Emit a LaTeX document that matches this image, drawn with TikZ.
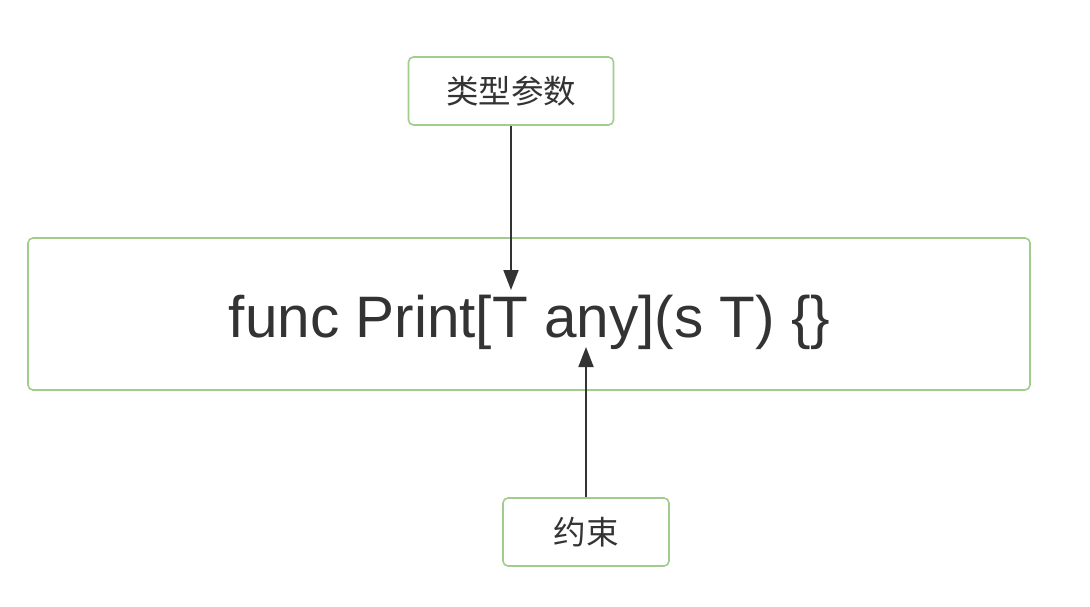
\documentclass[tikz,border=0pt]{standalone}
\usepackage{fontspec}
\setmainfont{Liberation Sans}
\newfontfamily\cjk{Noto Sans CJK SC}
\usetikzlibrary{positioning,arrows.meta}
\definecolor{boxgreen}{RGB}{160,204,140}
\definecolor{inkgray}{RGB}{51,51,51}
\tikzset{%
	block/.style    = {draw=boxgreen, line width=1.6pt, rounded corners=5pt, rectangle, text=inkgray}, % Box
	tagbox/.style   = {block, minimum width=205pt, minimum height=68pt, font=\cjk\fontsize{32.5}{38}\selectfont}, % Label box
	codebox/.style  = {block, minimum width=1002pt, minimum height=152pt}, % Code box
	arrow/.style    = {line width=1.8pt, draw=inkgray, -{Triangle[length=20pt,width=15pt]}},
}
\begin{document}
\begin{tikzpicture}[x=1pt,y=-1pt]
	\useasboundingbox (0,0) rectangle (1090,606);
	\node [codebox] (code) at (529,314) {};
	\node [text=inkgray, anchor=base, font=\fontsize{58.5}{64}\selectfont] (sig) at (529.5,337) {func Print[T any](s T) \{\}};
	\node [tagbox] (tparam) at (511,91) {类型参数};
	\node [tagbox, minimum width=166pt] (constr) at (586,532) {约束};
	\coordinate (tpt) at (511,290);
	\coordinate (cpt) at (586,347);
	
	\draw[arrow] (tparam) -- (tpt);
	\draw[arrow] (constr) -- (cpt);
\end{tikzpicture}
\end{document}
